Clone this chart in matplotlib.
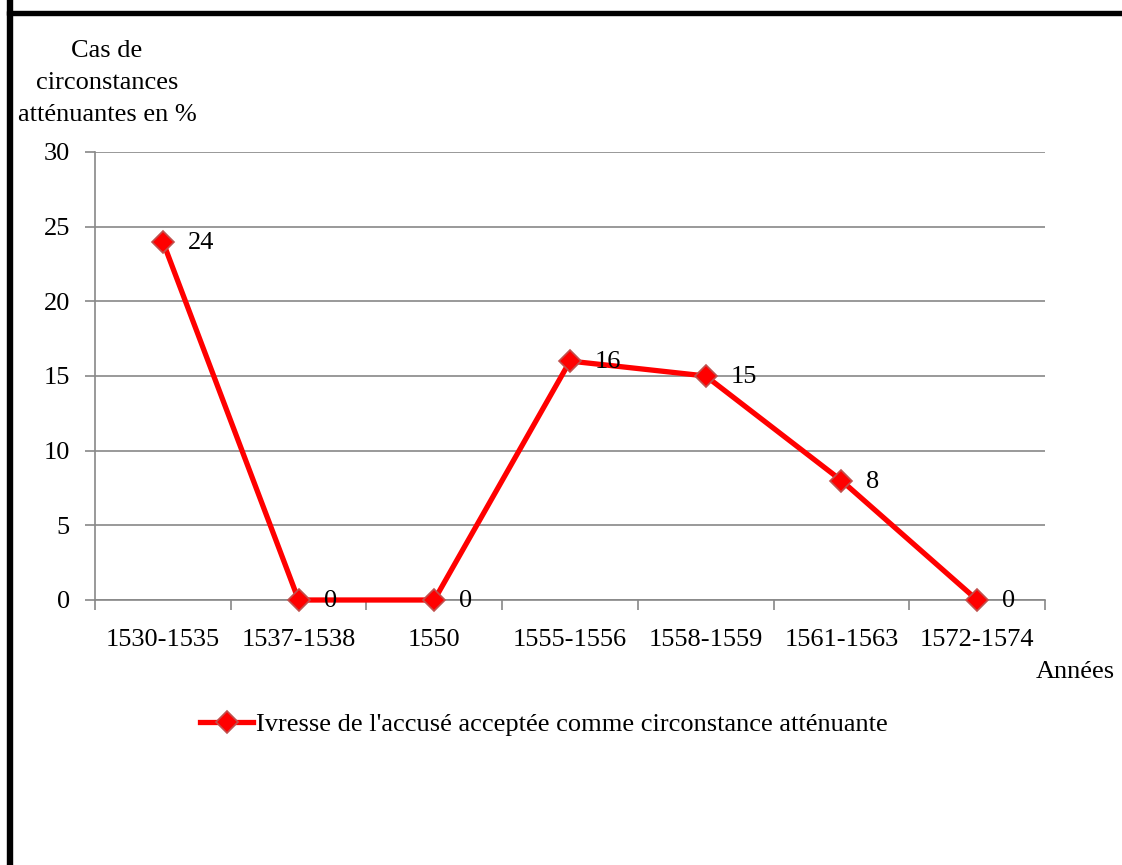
import matplotlib.pyplot as plt
import numpy as np
from matplotlib.lines import Line2D
from matplotlib.patches import Rectangle

periods = ["1530-1535", "1537-1538", "1550", "1555-1556", "1558-1559", "1561-1563", "1572-1574"]
pct = [24, 0, 0, 16, 15, 8, 0]
series_name = "Ivresse de l'accusé acceptée comme circonstance atténuante"

plt.rcParams["font.family"] = ["Liberation Serif", "DejaVu Serif"]
FS = 19
plt.rcParams["font.size"] = FS

W, H = 1122, 865
fig = plt.figure(figsize=(W / 100, H / 100), dpi=100)
ax = fig.add_axes([95 / W, 1 - 600 / H, (1045 - 95) / W, (600 - 152) / H])

grid_c = "#888888"
x = np.arange(len(periods))
ax.plot(x, pct, color="#ff0000", lw=3.8, marker="D", markersize=11,
        markerfacecolor="#ff0000", markeredgecolor="#c0504d", markeredgewidth=1.2,
        zorder=3, clip_on=False)
for xi, v in zip(x, pct):
    ax.annotate(str(v), (xi, v), xytext=(18, -1), textcoords="offset points",
                ha="left", va="center", fontsize=FS, zorder=4)

ax.set_xlim(-0.5, len(periods) - 0.5)
ax.set_ylim(0, 30)
ax.set_yticks(np.arange(0, 31, 5))
ax.yaxis.grid(True, color=grid_c, lw=1.2)
ax.set_axisbelow(True)

# categories sit between tick marks
ax.set_xticks(np.arange(-0.5, len(periods)), minor=False)
ax.set_xticklabels([])
ax.set_xticks(x, minor=True)
ax.set_xticklabels(periods, minor=True)
ax.tick_params(axis="x", which="major", direction="out", length=7, color=grid_c, width=1.2)
ax.tick_params(axis="x", which="minor", length=0, pad=21, labelsize=FS)
ax.tick_params(axis="y", direction="out", length=7, color=grid_c, width=1.2, pad=11, labelsize=FS)

for s in ["top", "right"]:
    ax.spines[s].set_visible(False)
for s in ["left", "bottom"]:
    ax.spines[s].set_color(grid_c)
    ax.spines[s].set_linewidth(1.2)

fig.text(107 / W, 1 - 83 / H, "Cas de\ncirconstances\natténuantes en %", ha="center", va="center",
         fontsize=FS, linespacing=1.6)
fig.text(1075 / W, 1 - 672 / H, "Années", ha="center", va="center", fontsize=FS)

handle = Line2D([], [], color="#ff0000", lw=3.8, marker="D", markersize=11,
                markerfacecolor="#ff0000", markeredgecolor="#c0504d", markeredgewidth=1.2)
fig.legend([handle], [series_name], loc="center", bbox_to_anchor=(544 / W, 1 - 724 / H),
           frameon=False, fontsize=FS, handlelength=2.0, handletextpad=0.1)

# black frame of the original picture (left and top)
fig.patches.append(Rectangle((7 / W, -0.1), 5 / W, 1.2 - 15 / H, transform=fig.transFigure,
                             color="black", zorder=10))
fig.patches.append(Rectangle((7 / W, 1 - 15 / H), 1.1, 4 / H, transform=fig.transFigure,
                             color="black", zorder=10))

fig.savefig("out.png", dpi=100)
